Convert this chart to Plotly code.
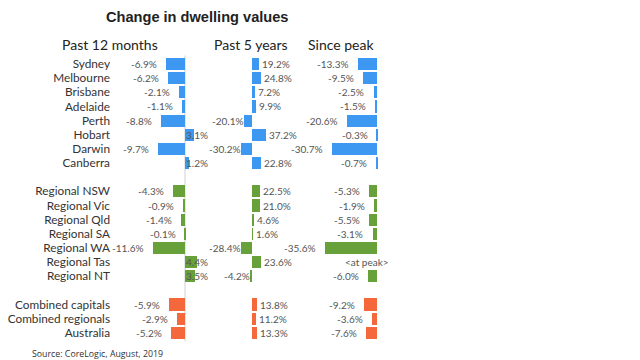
import plotly.graph_objects as go

# ---- data ----
capitals = ["Sydney", "Melbourne", "Brisbane", "Adelaide", "Perth", "Hobart", "Darwin", "Canberra"]
regionals = ["Regional NSW", "Regional Vic", "Regional Qld", "Regional SA", "Regional WA", "Regional Tas", "Regional NT"]
combined = ["Combined capitals", "Combined regionals", "Australia"]

cap_12m = [-6.9, -6.2, -2.1, -1.1, -8.8, 3.1, -9.7, 1.2]
cap_5y = [19.2, 24.8, 7.2, 9.9, -20.1, 37.2, -30.2, 22.8]
cap_peak = [-13.3, -9.5, -2.5, -1.5, -20.6, -0.3, -30.7, -0.7]

reg_12m = [-4.3, -0.9, -1.4, -0.1, -11.6, 4.4, 3.5]
reg_5y = [22.5, 21.0, 4.6, 1.6, -28.4, 23.6, -4.2]
reg_peak = [-5.3, -1.9, -5.5, -3.1, -35.6, None, -6.0]   # Regional Tas: <at peak>

com_12m = [-5.9, -2.9, -5.2]
com_5y = [13.8, 11.2, 13.3]
com_peak = [-9.2, -3.6, -7.6]

panel_titles = ["Past 12 months", "Past 5 years", "Since peak"]
title = "Change in dwelling values"
source = "Source: CoreLogic, August, 2019"
at_peak_label = "<at peak>"

# ---- styling ----
BLUE = "#3d98f2"
GREEN = "#68a03a"
ORANGE = "#f4683c"
LABEL_GREY = "#555555"
TEXT_DARK = "#333333"

W, H = 640, 360
OFF = 8  # page body margin offset in the browser


def px(xp):
    return (xp - OFF) / W


def py(yp):
    return 1 - (yp - OFF) / H


groups = [(capitals, [cap_12m, cap_5y, cap_peak], BLUE),
          (regionals, [reg_12m, reg_5y, reg_peak], GREEN),
          (combined, [com_12m, com_5y, com_peak], ORANGE)]

# build rows with a blank spacer row between groups
rows, names, colors = [], [], []
panel_vals = [[], [], []]
r = 0
for labels, series, col in groups:
    for i, lab in enumerate(labels):
        rows.append(r)
        names.append(lab)
        colors.append(col)
        for p in range(3):
            panel_vals[p].append(series[p][i])
        r += 1
    r += 1  # spacer
n_last = rows[-1]

fig = go.Figure()
axes = ["x", "x2", "x3"]
for p in range(3):
    fig.add_trace(go.Bar(
        x=[v if v is not None else 0 for v in panel_vals[p]],
        y=rows, orientation="h", width=0.86,
        marker=dict(color=colors, line=dict(width=0)),
        xaxis=axes[p], yaxis="y", showlegend=False, hoverinfo="skip",
    ))

# value labels
neg_shift = [-7, 2, -7]
pos_shift = [-1, 1, 1]
lab_font = dict(family="Lato", size=10, color=LABEL_GREY)
annotations = []
for p in range(3):
    for row, v in zip(rows, panel_vals[p]):
        if v is None:
            annotations.append(dict(x=0, y=row, xref=axes[p], yref="y", text=at_peak_label,
                                    showarrow=False, xanchor="center", xshift=-10, font=lab_font))
            continue
        txt = f"{v:.1f}%"
        if v < 0:
            annotations.append(dict(x=v, y=row, xref=axes[p], yref="y", text=txt,
                                    showarrow=False, xanchor="right", xshift=neg_shift[p], font=lab_font))
        else:
            xpos = 0 if p == 0 else v
            annotations.append(dict(x=xpos, y=row, xref=axes[p], yref="y", text=txt,
                                    showarrow=False, xanchor="left", xshift=pos_shift[p], font=lab_font))

# headers
header_x = [109.5, 251, 341]
for hx, t in zip(header_x, panel_titles):
    annotations.append(dict(x=px(hx), y=py(45), xref="paper", yref="paper", text=t,
                            showarrow=False, xanchor="center", yanchor="middle",
                            font=dict(family="Lato", size=14, color="#222222")))
annotations.append(dict(x=px(197), y=py(17), xref="paper", yref="paper", text=f"<b>{title}</b>",
                        showarrow=False, xanchor="center", yanchor="middle",
                        font=dict(family="Liberation Sans", size=14.6, color="#222222")))
annotations.append(dict(x=px(30), y=py(354), xref="paper", yref="paper", text=source,
                        showarrow=False, xanchor="left", yanchor="middle",
                        font=dict(family="Open Sans", size=8.8, color=TEXT_DARK)))

# zero line in first panel
shapes = [dict(type="line", xref="x", yref="y", x0=0, x1=0, y0=-0.6, y1=n_last + 0.6,
               line=dict(color="#d0d0d0", width=1), layer="below")]

row0, pitch = 64 - OFF, 14.15
ylo = -row0 / pitch
yhi = (H - row0) / pitch


def xrange(zero_px, scale, d0, d1):
    z = zero_px - OFF
    return [(d0 * W - z) / scale, (d1 * W - z) / scale]


d1 = [0.17, 0.31]
d2 = [0.35, 0.43]
d3 = [0.47, 0.61]
common_x = dict(showgrid=False, zeroline=False, showticklabels=False, showline=False, ticks="",
                fixedrange=True, anchor="y", automargin=False)
fig.update_layout(
    width=W, height=H,
    margin=dict(l=0, r=0, t=0, b=0, pad=0),
    paper_bgcolor="white", plot_bgcolor="white",
    bargap=0,
    xaxis=dict(domain=d1, range=xrange(185, 2.76, *d1), **common_x),
    xaxis2=dict(domain=d2, range=xrange(252, 0.375, *d2), **common_x),
    xaxis3=dict(domain=d3, range=xrange(377, 1.46, *d3), **common_x),
    yaxis=dict(range=[yhi, ylo], tickvals=rows, ticktext=names, showgrid=False, zeroline=False,
               showline=False, ticks="", anchor="free", position=px(110), automargin=False,
               tickfont=dict(family="Lato", size=11.8, color=TEXT_DARK)),
    annotations=annotations,
    shapes=shapes,
)

fig.write_html("out.html")
